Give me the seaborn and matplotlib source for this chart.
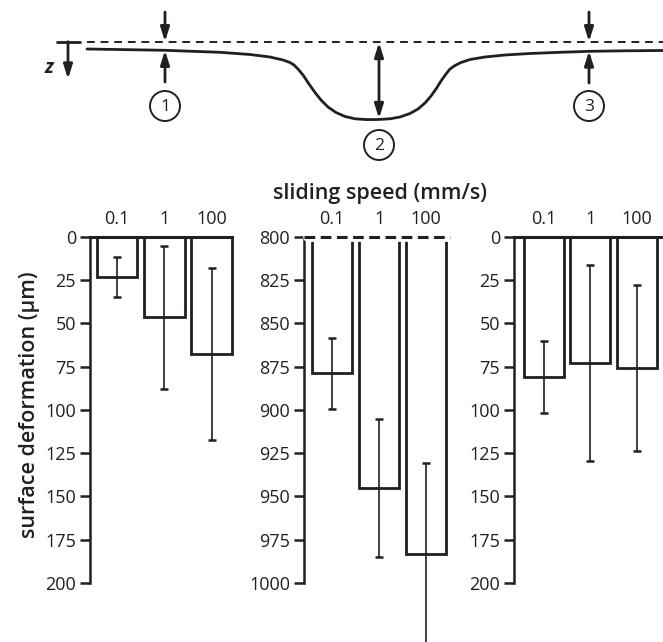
import numpy as np
import pandas as pd
import seaborn as sns
import matplotlib.pyplot as plt
from matplotlib.patches import Circle

# data
speeds = ["0.1", "1", "100"]
pos1_mean = [23.3, 46.5, 67.6]
pos1_err = [11.3, 41.3, 49.6]
pos2_mean = [879, 945, 983]
pos2_err = [20.7, 39.8, 52.3]
pos3_mean = [81, 72.9, 75.8]
pos3_err = [20.7, 56.5, 47.8]
ticks_small = [0, 25, 50, 75, 100, 125, 150, 175, 200]
ticks_big = [800, 825, 850, 875, 900, 925, 950, 975, 1000]

# schematic of the deformed surface (pixel units of the sketch)
profile_x = [87, 165, 220, 250, 270, 283, 290, 294, 298, 303, 309, 315, 321,
             328, 336, 345, 355, 367, 378, 390, 400, 410, 418, 425, 431, 436,
             441, 446, 450, 455, 461, 470, 485, 505, 530, 560, 590, 625, 663]
profile_y = [49.0, 50.3, 52.3, 54.5, 57, 60, 62.5, 65, 69, 75, 84, 92.5, 100,
             107, 112.5, 116.5, 118.8, 119.6, 119.5, 118.8, 117, 113.5, 109,
             103, 96, 89, 81, 74, 69, 65.5, 62.5, 59.5, 57, 55, 53.5, 52.3,
             51.3, 50.8, 50.5]
marker_x = [165, 379, 589]
marker_labels = ["1", "2", "3"]

INK = "#231f20"
W, H = 663, 642

sns.set_theme(style="white")
plt.rcParams["font.family"] = ["Open Sans", "DejaVu Sans"]
plt.rcParams["text.color"] = INK
plt.rcParams["axes.edgecolor"] = INK
plt.rcParams["xtick.color"] = INK
plt.rcParams["ytick.color"] = INK

fig = plt.figure(figsize=(W / 100, H / 100), dpi=100)


def px_axes(left, top, width, height):
    return fig.add_axes([left / W, 1 - (top + height) / H, width / W, height / H])


# ---- schematic ----
ax0 = px_axes(0, 0, W, 170)
ax0.set_xlim(0, W)
ax0.set_ylim(170, 0)
ax0.axis("off")
ax0.plot([87, W], [41.7, 41.7], color=INK, lw=1.4, ls=(0, (4, 3)))
sns.lineplot(x=profile_x, y=profile_y, ax=ax0, color=INK, lw=2, sort=False,
             estimator=None)
arrow = dict(arrowstyle="-|>,head_length=0.7,head_width=0.22", color=INK, lw=2,
             shrinkA=0, shrinkB=0)
dbl = dict(arrowstyle="<|-|>,head_length=0.7,head_width=0.22", color=INK, lw=2,
           shrinkA=0, shrinkB=0)
for mx, top_y, bot_y in [(marker_x[0], 50.3, 82), (marker_x[2], 51, 83)]:
    ax0.annotate("", xy=(mx, 41.7), xytext=(mx, 12), arrowprops=arrow)
    ax0.annotate("", xy=(mx, top_y), xytext=(mx, bot_y), arrowprops=arrow)
ax0.annotate("", xy=(marker_x[1], 42.5), xytext=(marker_x[1], 118.5), arrowprops=dbl)
# z axis symbol
ax0.plot([57, 80], [41.7, 41.7], color=INK, lw=2)
ax0.annotate("", xy=(68, 79), xytext=(68, 41.7), arrowprops=arrow)
ax0.text(49, 68, "z", fontsize=14, fontweight="bold", style="italic",
         ha="center", va="center")
for mx, my, lab in zip(marker_x, [106, 145, 106], marker_labels):
    ax0.add_patch(Circle((mx, my), 15, fill=False, ec=INK, lw=1.4))
    ax0.text(mx, my + 1, lab, fontsize=12.5, ha="center", va="center")

# ---- bar panels ----
top, height = 236.7, 583 - 236.7
panels = [
    (90, 142, (-0.57, 2.43), pos1_mean, pos1_err, ticks_small),
    (304, 146, (-0.6, 2.51), pos2_mean, pos2_err, ticks_big),
    (514, 149, (-0.645, 2.56), pos3_mean, pos3_err, ticks_small),
]
for i, (left, width, xlim, mean, err, yticks) in enumerate(panels):
    ax = px_axes(left, top, width, height)
    df = pd.DataFrame({"speed": speeds, "deformation": mean})
    sns.barplot(data=df, x="speed", y="deformation", ax=ax, fill=False,
                color=INK, linewidth=2, width=0.86, errorbar=None)
    if i != 1:
        # bars start at the axis line here, so don't clip their outer edges
        for p in ax.patches:
            p.set_clip_on(False)
    eb = ax.errorbar(range(len(speeds)), mean, yerr=err, fmt="none", ecolor=INK,
                     elinewidth=1.2, capsize=3, capthick=1.8, zorder=5)
    for art in eb.get_children():
        art.set_clip_on(False)
    ax.set_xlim(*xlim)
    ax.set_ylim(yticks[-1], yticks[0])
    ax.set_yticks(yticks)
    ax.set_xlabel("")
    ax.set_ylabel("")
    ax.xaxis.tick_top()
    ax.tick_params(axis="x", length=0, pad=6, labelsize=13)
    ax.tick_params(axis="y", left=True, length=7, width=1.8, pad=3, labelsize=13)
    for s in ["right", "bottom"]:
        ax.spines[s].set_visible(False)
    ax.spines["left"].set_linewidth(1.8)
    ax.spines["top"].set_linewidth(2.2)
    ax.spines["top"].set_zorder(8)
    if i == 1:
        ax.spines["top"].set_visible(False)
        ax.axhline(yticks[0], xmin=0.03, xmax=1, color="white", lw=7, zorder=6,
                   clip_on=False)
        ax.axhline(yticks[0], color=INK, lw=2.2, ls=(0, (3.5, 1.8)), zorder=7,
                   clip_on=False)

fig.text(380 / W, 1 - 194 / H, "sliding speed (mm/s)", fontsize=15.5,
         fontweight="semibold", ha="center", va="center")
fig.text(30 / W, 1 - 405 / H, "surface deformation (µm)", fontsize=15.5,
         fontweight="semibold", rotation=90, ha="center", va="center")

fig.savefig("out.png", dpi=100)
